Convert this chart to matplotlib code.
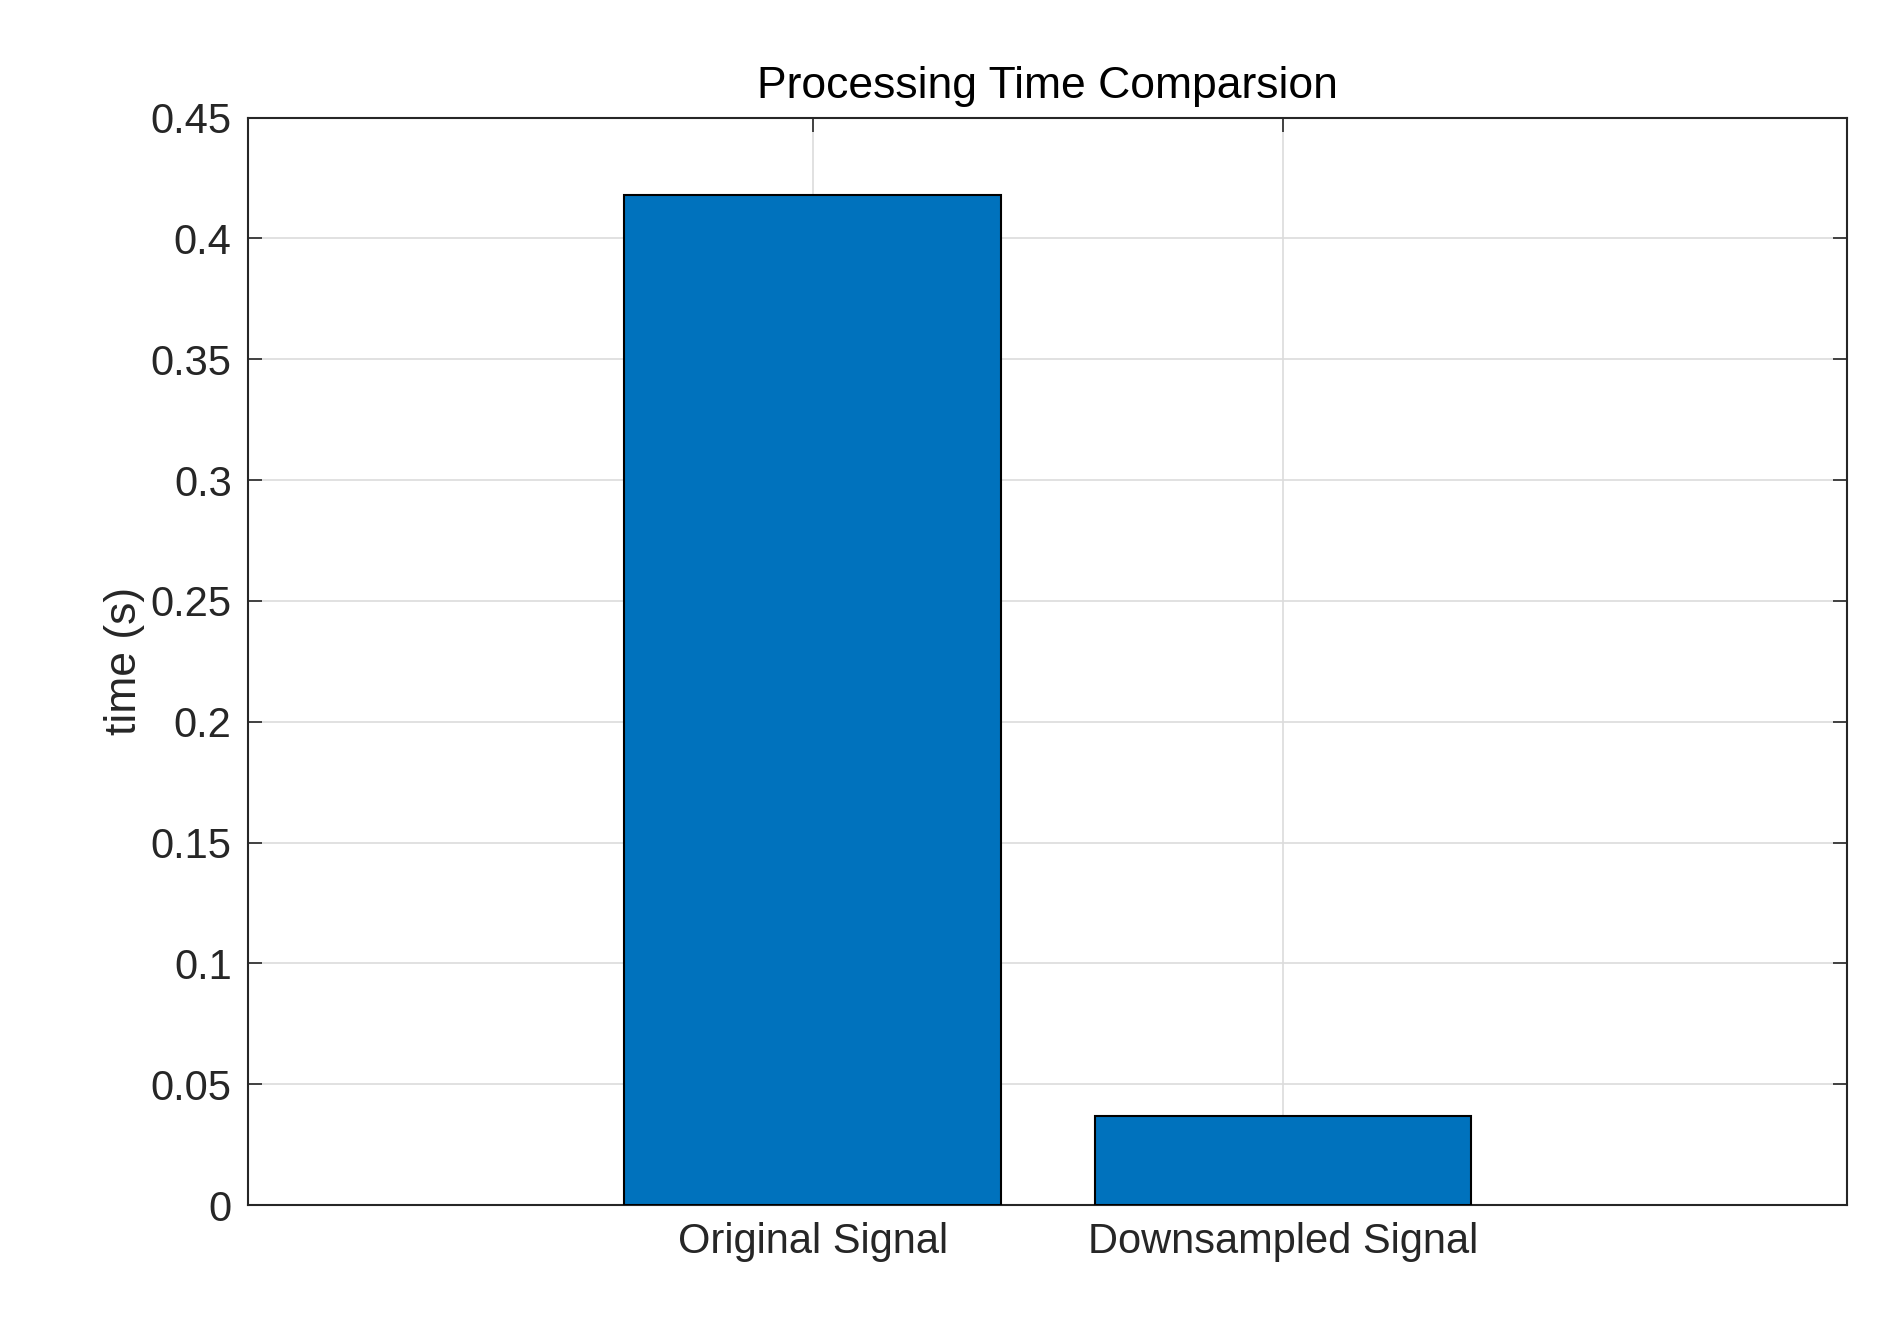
import matplotlib
matplotlib.use("Agg")
import matplotlib.pyplot as plt

categories = ["Original Signal", "Downsampled Signal"]
times = [0.418, 0.037]
yticks = [0, 0.05, 0.1, 0.15, 0.2, 0.25, 0.3, 0.35, 0.4, 0.45]
ytick_labels = ["0", "0.05", "0.1", "0.15", "0.2", "0.25", "0.3", "0.35", "0.4", "0.45"]

plt.rcParams['font.family'] = ['Liberation Sans', 'DejaVu Sans']
fig = plt.figure(figsize=(18.81, 13.36), dpi=100)
ax = fig.add_axes([0.132, 0.098, 0.85, 0.814])
x = [1, 2]
ax.bar(x, times, width=0.8, color='#0072BD', edgecolor='black', linewidth=1.5, zorder=3)
ax.set_xlim(-0.2, 3.2)
ax.set_ylim(0, 0.45)
ax.set_xticks(x)
ax.set_xticklabels(categories)
ax.set_yticks(yticks)
ax.set_yticklabels(ytick_labels)
ax.grid(True, color='#dcdcdc', linewidth=1.2, zorder=0)
ax.tick_params(direction='in', top=True, right=True, labelsize=30, length=10, width=1.2, colors='#262626', pad=12)
for s in ax.spines.values():
    s.set_linewidth(1.5)
    s.set_color('#262626')
ax.set_ylabel("time (s)", fontsize=32, color='#262626')
ax.set_title("Processing Time Comparsion", fontsize=32, color='black', pad=14)
fig.savefig("out.png", dpi=100, facecolor='white')
